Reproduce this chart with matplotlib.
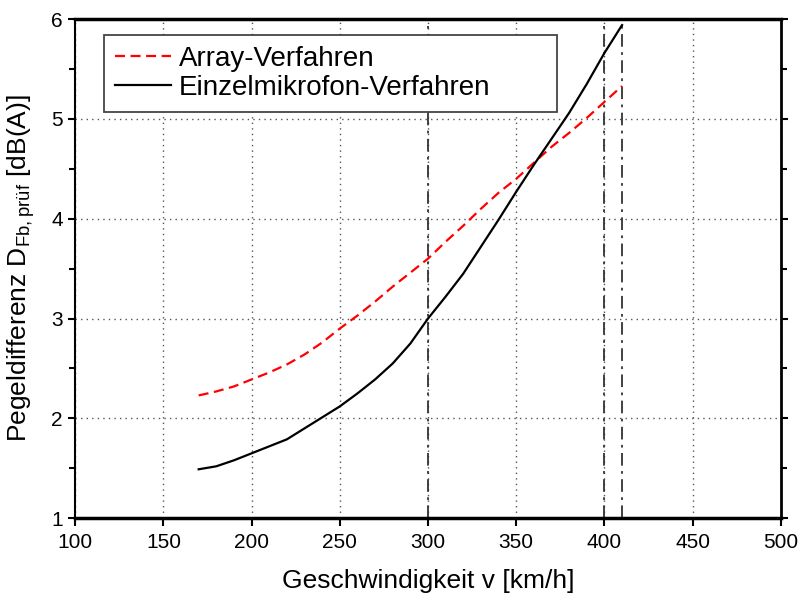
import matplotlib
matplotlib.use('Agg')
import matplotlib.pyplot as plt
from matplotlib.ticker import MultipleLocator

plt.rcParams['font.family'] = ['Liberation Sans', 'DejaVu Sans']
plt.rcParams['mathtext.fontset'] = 'custom'
plt.rcParams['mathtext.rm'] = 'Liberation Sans'

# data
speed = [170, 180, 190, 200, 210, 220, 230, 240, 250, 260, 270, 280, 290,
         300, 310, 320, 330, 340, 350, 360, 370, 380, 390, 400, 410]
array_vals = [2.23, 2.27, 2.32, 2.39, 2.46, 2.54, 2.64, 2.76, 2.90, 3.03,
              3.17, 3.32, 3.46, 3.60, 3.77, 3.93, 4.10, 4.26, 4.40, 4.56,
              4.72, 4.86, 5.01, 5.17, 5.33]
single_vals = [1.49, 1.52, 1.58, 1.65, 1.72, 1.79, 1.90, 2.01, 2.12, 2.25,
               2.39, 2.55, 2.75, 3.00, 3.22, 3.45, 3.72, 3.99, 4.27, 4.54,
               4.80, 5.06, 5.35, 5.66, 5.94]
marker_speeds = [300, 400, 410]

fig = plt.figure(figsize=(8, 5.97), dpi=100)
ax = fig.add_axes([0.094, 0.132, 0.882, 0.836])

ax.grid(True, which='major', color='#555555', linestyle=(0, (1, 3)), linewidth=1)
ax.set_axisbelow(True)

for v in marker_speeds:
    ax.axvline(v, color='#333333', linestyle=(0, (7, 3, 1.5, 3)), linewidth=1.3, zorder=2)

ax.plot(speed, array_vals, color='red', linestyle='--', dashes=(4.5, 2.5),
        linewidth=1.6, label='Array-Verfahren', zorder=3)
ax.plot(speed, single_vals, color='black', linewidth=1.6,
        label='Einzelmikrofon-Verfahren', zorder=3)

ax.set_xlim(100, 500)
ax.set_ylim(1, 6)
ax.xaxis.set_major_locator(MultipleLocator(50))
ax.yaxis.set_major_locator(MultipleLocator(1))
ax.yaxis.set_minor_locator(MultipleLocator(0.5))

ax.tick_params(axis='x', which='major', direction='out', length=6, width=1.5,
               labelsize=15, top=False, pad=5)
ax.tick_params(axis='y', which='both', direction='out', length=5, width=1.5,
               labelsize=15, right=True, pad=4)
ax.tick_params(axis='y', which='minor', length=4)

ax.spines['top'].set_linewidth(2.5)
ax.spines['bottom'].set_linewidth(2.5)
ax.spines['left'].set_linewidth(1.5)
ax.spines['right'].set_linewidth(2)

ax.set_xlabel('Geschwindigkeit v [km/h]', fontsize=19, labelpad=12)
ax.set_ylabel(r'Pegeldifferenz D$_{\mathrm{Fb,prüf}}$ [dB(A)]', fontsize=19, labelpad=10)

# legend box spans roughly x 104..557 px, y 35..107 px in the reference
leg = ax.legend(loc='upper left', bbox_to_anchor=(0.041, 0.826, 0.642, 0.142),
                mode='expand', fontsize=20,
                fancybox=False, framealpha=1, edgecolor='#444444',
                handlelength=2.0, handletextpad=0.3, borderpad=0.4,
                labelspacing=0.1, borderaxespad=0)
leg.get_frame().set_linewidth(1.3)
leg.set_zorder(5)

fig.savefig('out.png', dpi=100)
